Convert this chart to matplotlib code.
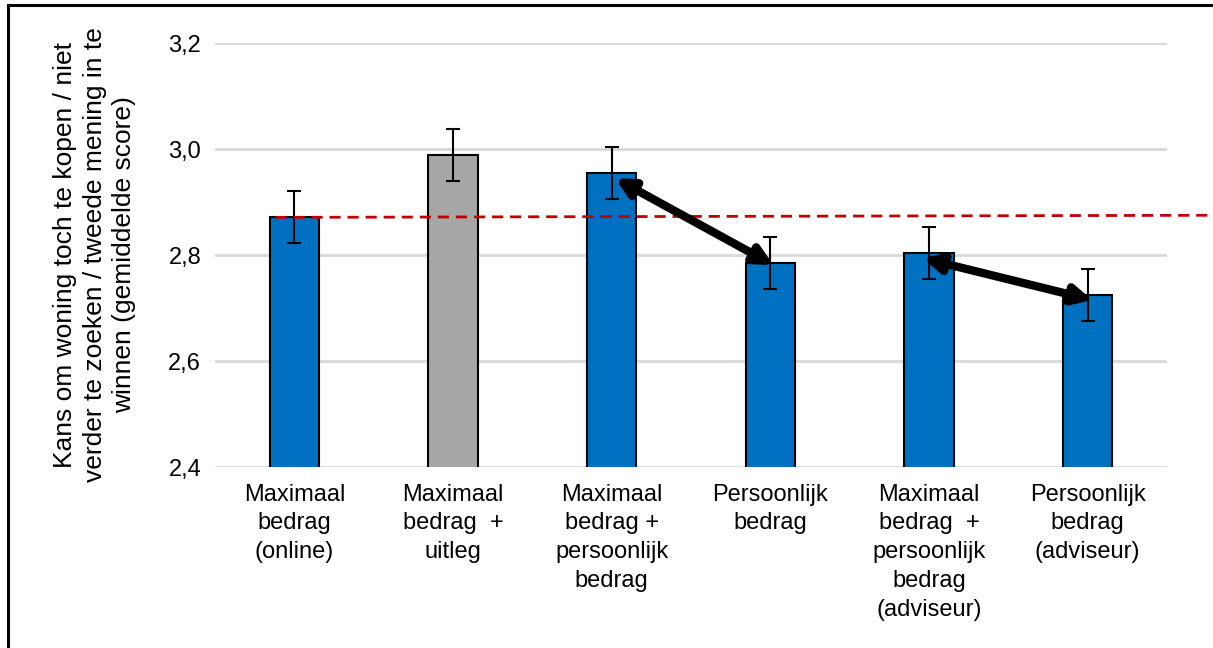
import numpy as np
import matplotlib.pyplot as plt
from matplotlib.lines import Line2D

categories = ['Maximaal\nbedrag\n(online)',
              'Maximaal\nbedrag  +\nuitleg',
              'Maximaal\nbedrag +\npersoonlijk\nbedrag',
              'Persoonlijk\nbedrag',
              'Maximaal\nbedrag  +\npersoonlijk\nbedrag\n(adviseur)',
              'Persoonlijk\nbedrag\n(adviseur)']
scores = [2.872, 2.989, 2.955, 2.785, 2.804, 2.725]
errors = [0.049, 0.049, 0.049, 0.049, 0.049, 0.049]
bar_colors = ['#0070c0', '#a6a6a6', '#0070c0', '#0070c0', '#0070c0', '#0070c0']

# reference line (score of the first condition)
ref_x = [-0.12, 5.76]
ref_y = [2.871, 2.875]

# double headed arrows: (x0, y0, x1, y1)
arrows = [(2.02, 2.945, 3.02, 2.781),
          (3.96, 2.794, 5.03, 2.715)]

yticks = [2.4, 2.6, 2.8, 3.0, 3.2]
ytick_labels = ['2,4', '2,6', '2,8', '3,0', '3,2']

plt.rcParams['font.family'] = ['Liberation Sans', 'DejaVu Sans']

fig = plt.figure(figsize=(12.13, 6.48), dpi=100)
ax = fig.add_axes([0.1773, 0.2793, 0.7848, 0.6543])

x = np.arange(len(scores))
ax.bar(x, scores, width=0.31, bottom=0, color=bar_colors,
       edgecolor='black', linewidth=1.5, zorder=3)
ax.errorbar(x, scores, yerr=errors, fmt='none', ecolor='black',
            elinewidth=1.5, capsize=5, capthick=1.5, zorder=4)

ax.plot(ref_x, ref_y, color='#c00000', lw=2, dashes=(4, 2.5),
        clip_on=False, zorder=5)

for x0, y0, x1, y1 in arrows:
    ax.annotate('', xy=(x1, y1), xytext=(x0, y0),
                arrowprops=dict(arrowstyle='<|-|>', color='black', lw=6,
                                mutation_scale=26, shrinkA=0, shrinkB=0),
                zorder=6)

ax.set_xlim(-0.5, 5.5)
ax.set_ylim(2.4, 3.2)
ax.set_yticks(yticks)
ax.set_yticklabels(ytick_labels, fontsize=17)
ax.set_xticks(x)
ax.set_xticklabels(categories, fontsize=17, linespacing=1.4)
ax.tick_params(length=0, pad=10)
ax.tick_params(axis='x', pad=12)
ax.grid(axis='y', color='#d9d9d9', lw=2, zorder=0)
ax.set_axisbelow(True)
for s in ax.spines.values():
    s.set_visible(False)

fig.text(0.078, 0.607,
         'Kans om woning toch te kopen / niet\n'
         'verder te zoeken / tweede mening in te\n'
         'winnen (gemiddelde score)',
         rotation=90, ha='center', va='center', multialignment='center',
         fontsize=19, linespacing=1.27)

# outer frame
fig.add_artist(Line2D([0.0066, 1.0], [0.9923, 0.9923], color='black',
                      lw=2.2, transform=fig.transFigure))
fig.add_artist(Line2D([0.0066, 0.0066], [0.0, 0.9923], color='black',
                      lw=2.2, transform=fig.transFigure))

fig.savefig('out.png', dpi=100)
